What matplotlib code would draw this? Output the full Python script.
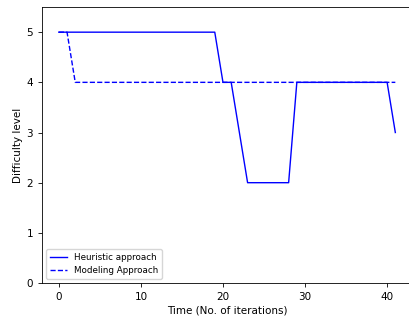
import matplotlib
matplotlib.use("Agg")
import matplotlib.pyplot as plt

# difficulty level chosen at each iteration
iterations = list(range(42))
# heuristic: 5 for 0..19, 4 at 20-21, down to 2 for 23..28, back to 4 for 29..40, 3 at 41
heuristic = [5] * 20 + [4, 4, 3, 2, 2, 2, 2, 2, 2] + [4] * 12 + [3]
# modeling: 5 for the first two iterations, then 4
modeling = [5, 5] + [4] * 40

plt.rcParams["font.size"] = 7.5

fig = plt.figure(figsize=(4.09, 3.22), dpi=100)
ax = fig.add_axes([0.1027, 0.121, 0.905, 0.857])
ax.plot(iterations, heuristic, "b-", lw=1, label="Heuristic approach")
ax.plot(iterations, modeling, "b--", lw=1, label="Modeling Approach")
ax.set_xlim(-2.05, 43.05)
ax.set_ylim(0, 5.5)
ax.set_xticks([0, 10, 20, 30, 40])
ax.tick_params(length=3, width=0.6)
for s in ax.spines.values():
    s.set_linewidth(0.6)
ax.set_xlabel("Time (No. of iterations)", labelpad=2.5)
ax.set_ylabel("Difficulty level", labelpad=2.5)
ax.legend(loc="lower left", fontsize=6.3)
fig.savefig("out.png", dpi=100)
